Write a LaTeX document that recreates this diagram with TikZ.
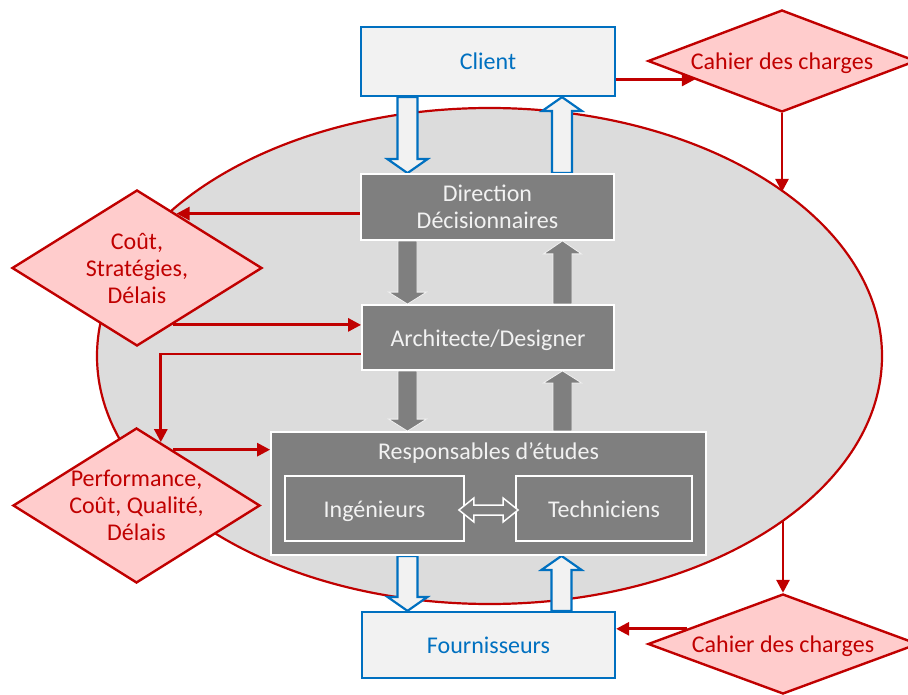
\documentclass[tikz,border=0pt]{standalone}
\usepackage{fontspec}
\setmainfont{Carlito}
\usetikzlibrary{shapes.geometric,arrows.meta,calc}
\definecolor{cred}{HTML}{C00000}
\definecolor{cpink}{HTML}{FFCCCC}
\definecolor{cblue}{HTML}{0070C0}
\definecolor{clight}{HTML}{F2F2F2}
\definecolor{cgray}{HTML}{7F7F7F}
\definecolor{cell}{HTML}{DCDCDC}
\pgfdeclarelayer{bglayer}
\pgfdeclarelayer{midlayer}
\pgfsetlayers{bglayer,midlayer,main}
% vertical block arrow: style, from, to, shaft half width, head half width, head length
\newcommand\varrow[6]{%
  \filldraw[#1] let \p1=#2, \p2=#3, \n1={sign(\y1-\y2)} in
   ({\x1-#4pt},\y1) -- ({\x1-#4pt},{\y2+\n1*#6pt}) -- ({\x1-#5pt},{\y2+\n1*#6pt}) -- (\x1,\y2)
   -- ({\x1+#5pt},{\y2+\n1*#6pt}) -- ({\x1+#4pt},{\y2+\n1*#6pt}) -- ({\x1+#4pt},\y1) -- cycle;}
\begin{document}
\begin{tikzpicture}[x=1pt,y=-1pt,
  txt/.style={font=\fontsize{24}{27}\selectfont},
  oneline/.style={text height=19pt, text depth=2pt},
  bluebox/.style={draw=cblue, fill=clight, line width=2.2pt, text=cblue, inner sep=0pt, oneline, txt},
  graybox/.style={draw=white, fill=cgray, line width=1.8pt, text=clight, inner sep=0pt, align=center, txt},
  losange/.style={diamond, draw=cred, fill=cpink, line width=2.4pt, text=cred, inner sep=0pt, align=center, txt},
  redarr/.style={draw=cred, line width=2.8pt, -{Triangle[length=13pt,width=13pt]}},
  bluearr/.style={draw=cblue, fill=clight, line width=2.2pt},
  grayarr/.style={draw=clight, fill=cgray, line width=0.8pt},
]
\useasboundingbox (0,0) rectangle (908,695);

% boxes
\node[bluebox, minimum width=254pt, minimum height=69pt] (client) at (488,61.5) {Client};
\node[graybox, minimum width=253pt, minimum height=66pt] (dir) at (487.5,207) {Direction\\Décisionnaires};
\node[graybox, oneline, minimum width=252pt, minimum height=65pt] (arch) at (488,337.5) {Architecte/Designer};
\node[graybox, minimum width=435pt, text height=27pt, text depth=96pt] (resp) at (488.5,493.5) {Responsables d’études};
\node[graybox, oneline, minimum width=179pt, minimum height=65pt] (ing) at (374.5,508.5) {Ingénieurs};
\node[graybox, oneline, minimum width=176pt, minimum height=65pt] (tech) at (604,508.5) {Techniciens};
\node[bluebox, minimum width=253pt, minimum height=66pt] (fourn) at (488.5,645) {Fournisseurs};

% diamonds
\node[losange, oneline, aspect=2.6, minimum width=268pt, minimum height=102pt] (cdc1) at (782,61) {Cahier des charges};
\node[losange, aspect=1.6, minimum width=250pt, minimum height=156pt] (d2) at (137,268) {Coût,\\Stratégies,\\Délais};
\node[losange, aspect=1.6, inner xsep=-20pt, minimum width=247pt, minimum height=155pt] (d3) at (136.5,505.5) {Performance,\\Coût, Qualité,\\Délais};
\node[losange, oneline, aspect=2.6, minimum width=270pt, minimum height=100pt] (cdc2) at (783,644) {Cahier des charges};

\begin{pgfonlayer}{bglayer}
\node[ellipse, draw=cred, fill=cell, line width=2.2pt, minimum width=785pt, minimum height=496pt, inner sep=0pt] (ell) at (489.5,356) {};
\end{pgfonlayer}

% block arrows (behind boxes)
\begin{pgfonlayer}{midlayer}
\varrow{bluearr}{($(client.south)+(-80.5,0)$)}{($(dir.north)+(-80.5,0)$)}{10}{20}{14}
\varrow{bluearr}{($(dir.north)+(74.5,0)$)}{($(client.south)+(74.5,0)$)}{10}{20}{14}
\varrow{grayarr}{($(dir.south)+(-80,0)$)}{($(arch.north)+(-80,0)$)}{9.5}{19}{12}
\varrow{grayarr}{($(arch.north)+(74.5,0)$)}{($(dir.south)+(74.5,0)$)}{9.5}{19}{13}
\varrow{grayarr}{($(arch.south)+(-80.5,0)$)}{($(resp.north)+(-80.5,0)$)}{9.5}{19}{12}
\varrow{grayarr}{($(resp.north)+(74,0)$)}{($(arch.south)+(74,0)$)}{9.5}{19}{12}
\varrow{bluearr}{($(resp.south)+(-81,0)$)}{($(fourn.north)+(-81,0)$)}{10}{20}{14}
\varrow{bluearr}{($(fourn.north)+(73,0)$)}{($(resp.south)+(73,0)$)}{10}{20}{14}
\end{pgfonlayer}

% double arrow between Ingenieurs and Techniciens
\filldraw[draw=white, fill=cgray, line width=1.5pt] let \p1=($(ing.east)+(-6,1.5)$), \p2=($(tech.west)+(3,1.5)$) in
  (\x1,\y1) -- ({\x1+15pt},{\y1+12pt}) -- ({\x1+15pt},{\y1+5pt}) -- ({\x2-15pt},{\y1+5pt})
  -- ({\x2-15pt},{\y1+12pt}) -- (\x2,\y1) -- ({\x2-15pt},{\y1-12pt}) -- ({\x2-15pt},{\y1-5pt})
  -- ({\x1+15pt},{\y1-5pt}) -- ({\x1+15pt},{\y1-12pt}) -- cycle;

% red connectors
\draw[redarr] (cdc1.192 -| client.east) -- (cdc1.192);
\draw[redarr] (cdc1.south) -- (cdc1.south |- ell.29.5);
\draw[redarr] (cdc2.north |- ell.-29.5) -- (cdc2.north);
\draw[redarr] (cdc2.171) -- (cdc2.171 -| fourn.east);
\draw[redarr] (d2.54.5 -| dir.west) -- (d2.54.5);
\draw[redarr] (d2.302) -- (d2.302 -| arch.west);
\draw[redarr] ($(arch.west)+(0,16.5)$) -| (d3.69.5);
\draw[redarr] (d3.57.7) -- (d3.57.7 -| resp.west);
\end{tikzpicture}
\end{document}
